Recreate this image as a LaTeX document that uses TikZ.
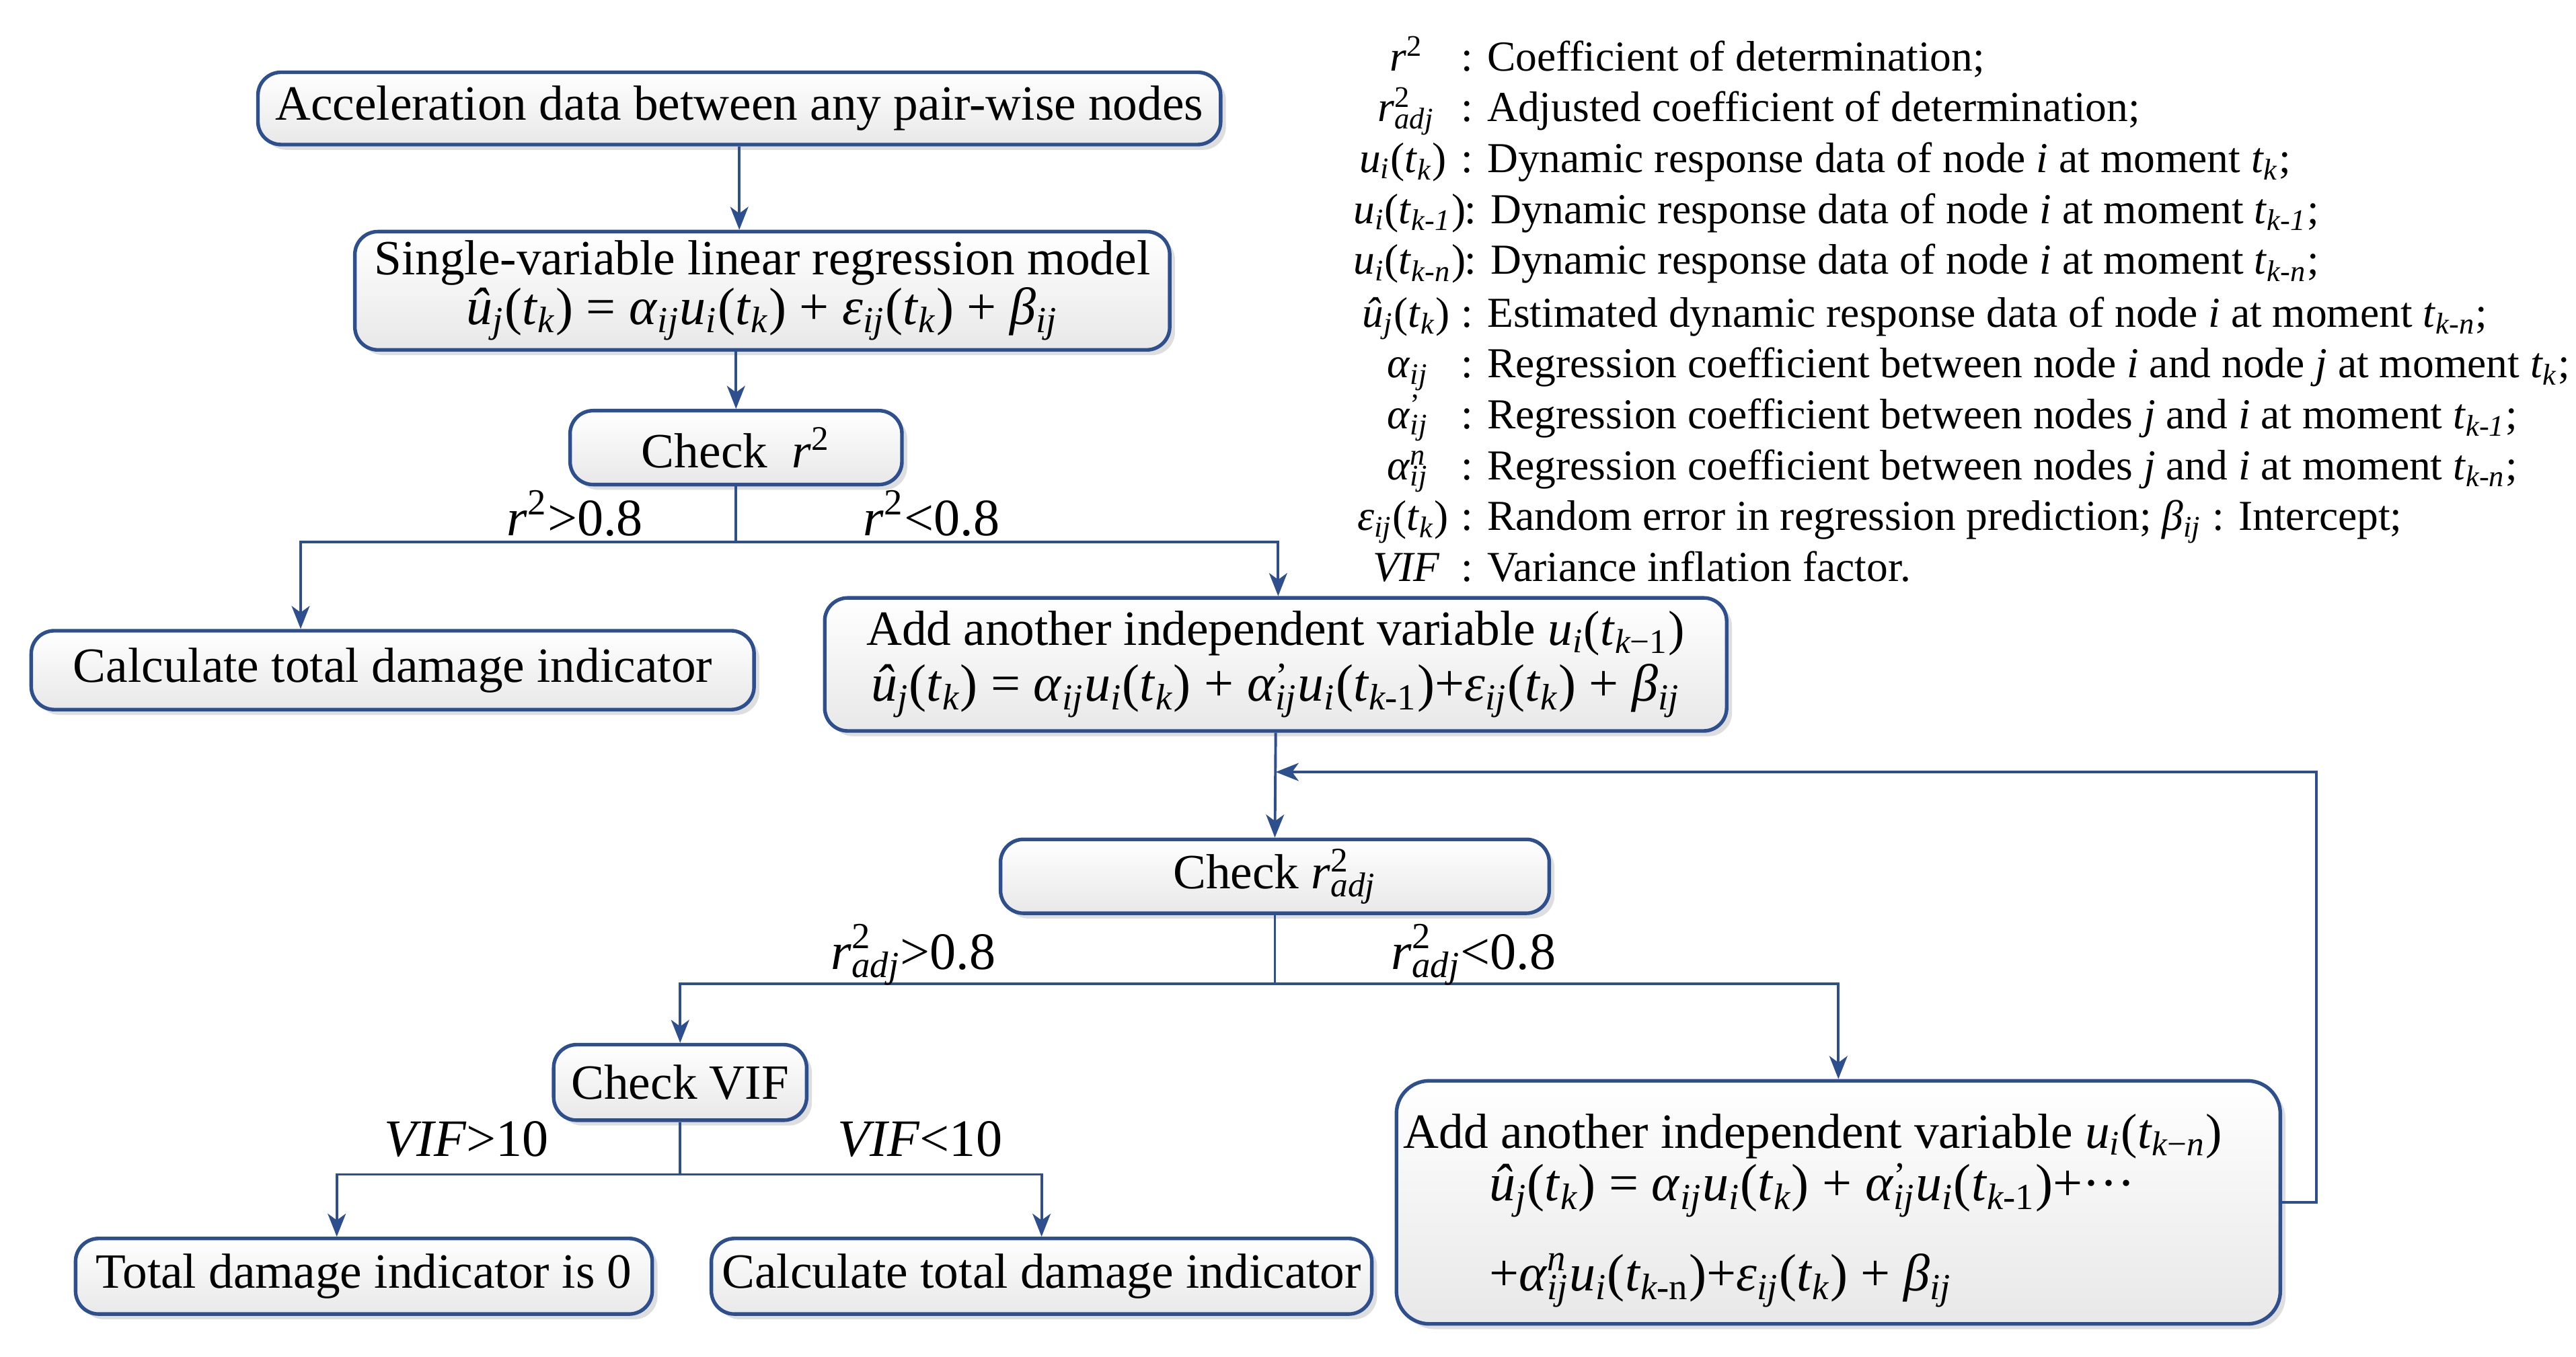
\documentclass[tikz,border=0pt]{standalone}
\usepackage{fontspec}
\setmainfont{Liberation Serif}
\usetikzlibrary{arrows.meta,shadows}
\definecolor{lc}{HTML}{2E4F8E}
\newcommand\vs[1]{\textsubscript{\itshape #1}}
\newcommand\vsr[1]{\textsubscript{#1}}
\newcommand\vp[1]{\textsuperscript{#1}}
\newcommand\ii[1]{\textit{#1}}
\newcommand\supsub[2]{\rlap{\textsuperscript{#1}}\textsubscript{\itshape #2}}
\newcommand\prsub[1]{\rlap{\textsuperscript{\raisebox{-0.45ex}{'}}}\textsubscript{\itshape #1}}
\newcommand\fml{\fontsize{16}{17}\selectfont}
\tikzset{
 box/.style={draw=lc, line width=1.1pt, rounded corners=7pt, top color=white, bottom color=black!9,
   drop shadow={shadow xshift=1.6pt, shadow yshift=-1.6pt, fill=black!13, opacity=1},
   font=\fontsize{15}{16}\selectfont, inner sep=0pt, align=center},
 conn/.style={draw=lc, line width=0.8pt},
 arr/.style={conn, -{Stealth[length=7pt,width=5.5pt,inset=2pt]}},
 lbl/.style={font=\fontsize{16}{17}\selectfont, inner sep=0pt, anchor=base},
 leg/.style={font=\fontsize{13}{14}\selectfont, inner sep=0pt, anchor=base west},
 sym/.style={font=\fontsize{13}{14}\selectfont, inner sep=0pt, anchor=base},
 ftxt/.style={font=\fontsize{15}{16}\selectfont, inner sep=0pt, anchor=base west},
}
\begin{document}
\begin{tikzpicture}[x=0.5pt,y=-0.5pt]
\fill[white] (0,0) rectangle (1568,826);
\useasboundingbox (0,0) rectangle (1568,826);

% boxes
\node[box, minimum width=293pt, minimum height=22pt] (b1) at (450,66) {Acceleration data between any pair-wise nodes};
\node[box, minimum width=248pt, minimum height=36pt] (b2) at (464,177) {Single-variable linear regression model\\[-1pt]
 \fml\ii{û}\vs{j}(\ii{t}\vs{k}) = \ii{α}\vs{ij}\ii{u}\vs{i}(\ii{t}\vs{k}) + \ii{ε}\vs{ij}(\ii{t}\vs{k}) + \ii{β}\vs{ij}};
\node[box, minimum width=101pt, minimum height=22.5pt] (b3) at (448,272.5) {Check\ \ \ii{r}\vp{2}};
\node[box, minimum width=220pt, minimum height=24pt] (b4) at (239,408) {Calculate total damage indicator};
\node[box, minimum width=274.5pt, minimum height=40.5pt] (b5) at (776.5,404.5) {Add another independent variable \ii{u}\vs{i}(\ii{t}\vsr{\itshape k\upshape −1})\\[1pt]
 \fml\ii{û}\vs{j}(\ii{t}\vs{k}) = \ii{α}\vs{ij}\ii{u}\vs{i}(\ii{t}\vs{k}) + \ii{α}\prsub{ij}\ii{u}\vs{i}(\ii{t}\vsr{\itshape k\upshape -1})+\ii{ε}\vs{ij}(\ii{t}\vs{k}) + \ii{β}\vs{ij}};
\node[box, minimum width=167pt, minimum height=22.5pt] (b6) at (776,533.5) {Check \ii{r}\supsub{2}{adj}};
\node[box, minimum width=77pt, minimum height=23pt] (b7) at (414,659) {Check VIF};
\node[box, rounded corners=10pt, minimum width=269pt, minimum height=74pt] (b8) at (1119,732) {};
\node[box, minimum width=175.5pt, minimum height=23pt] (b9) at (221.5,777) {Total damage indicator is 0};
\node[box, minimum width=201pt, minimum height=23pt] (b10) at (634,777) {Calculate total damage indicator};

% text of the large box
\node[ftxt] (t81) at (854,699) {Add another independent variable \ii{u}\vs{i}(\ii{t}\vsr{\itshape k\upshape −\itshape n})};
\node[ftxt, font=\fml] (t82) at (906,731) {\ii{û}\vs{j}(\ii{t}\vs{k}) = \ii{α}\vs{ij}\ii{u}\vs{i}(\ii{t}\vs{k}) + \ii{α}\prsub{ij}\ii{u}\vs{i}(\ii{t}\vsr{\itshape k\upshape -1})+···};
\node[ftxt, font=\fml] (t83) at (906,786) {+\ii{α}\supsub{\itshape n}{ij}\ii{u}\vs{i}(\ii{t}\vsr{\itshape k\upshape -n})+\ii{ε}\vs{ij}(\ii{t}\vs{k}) + \ii{β}\vs{ij}};

% connectors
\draw[arr] (b1.south) -- (b1.south |- b2.north);
\draw[arr] (b3.north |- b2.south) -- (b3.north);
\coordinate (j1) at (448,330);
\coordinate (l1) at (183,330);
\coordinate (r1) at (778,330);
\draw[conn] (b3.south) -- (j1);
\draw[arr] (j1) -- (l1) -- (l1 |- b4.north);
\draw[arr] (j1) -- (r1) -- (r1 |- b5.north);
\draw[arr] (b5.south) -- (b6.north);
\coordinate (fb) at (1410,470);
\draw[arr] (b8.east) -| (fb) -- (b5.south |- fb);
\coordinate (j2) at (776,599);
\draw[conn] (b6.south) -- (j2);
\draw[arr] (j2) -| (b7.north);
\draw[arr] (j2) -| (b8.north);
\coordinate (j3) at (414,715);
\coordinate (l3) at (205,715);
\draw[conn] (b7.south) -- (j3);
\draw[arr] (j3) -- (l3) -- (l3 |- b9.north);
\draw[arr] (j3) -| (b10.north);

% branch labels
\node[lbl] (la1) at (350,326) {\ii{r}\vp{2}>0.8};
\node[lbl] (la2) at (567,326) {\ii{r}\vp{2}<0.8};
\node[lbl] (la3) at (556,590) {\ii{r}\supsub{2}{adj}>0.8};
\node[lbl] (la4) at (897,590) {\ii{r}\supsub{2}{adj}<0.8};
\node[lbl] (la5) at (284,704) {\ii{VIF}>10};
\node[lbl] (la6) at (560,704) {\ii{VIF}<10};

% legend
\node[sym] (s1) at (856,43) {\ii{r}\vp{2}};
\node[leg] (d1) at (889,43) {: Coefficient of determination;};
\node[sym] (s2) at (856,74) {\ii{r}\supsub{2}{adj}};
\node[leg] (d2) at (889,74) {: Adjusted coefficient of determination;};
\node[sym] (s3) at (854,105) {\ii{u}\vs{i}(\ii{t}\vs{k})};
\node[leg] (d3) at (889,105) {: Dynamic response data of node \ii{i} at moment \ii{t}\vs{k};};
\node[sym] (s4) at (858,136) {\ii{u}\vs{i}(\ii{t}\vs{k-1})};
\node[leg] (d4) at (891,136) {: Dynamic response data of node \ii{i} at moment \ii{t}\vs{k-1};};
\node[sym] (s5) at (858,167) {\ii{u}\vs{i}(\ii{t}\vs{k-n})};
\node[leg] (d5) at (891,167) {: Dynamic response data of node \ii{i} at moment \ii{t}\vs{k-n};};
\node[sym] (s6) at (856,199) {\ii{û}\vs{j}(\ii{t}\vs{k})};
\node[leg] (d6) at (889,199) {: Estimated dynamic response data of node \ii{i} at moment \ii{t}\vs{k-n};};
\node[sym] (s7) at (857,230) {\ii{α}\vs{ij}};
\node[leg] (d7) at (889,230) {: Regression coefficient between node \ii{i} and node \ii{j} at moment \ii{t}\vs{k};};
\node[sym] (s8) at (857,261) {\ii{α}\supsub{'}{ij}};
\node[leg] (d8) at (889,261) {: Regression coefficient between nodes \ii{j} and \ii{i} at moment \ii{t}\vs{k-1};};
\node[sym] (s9) at (857,292) {\ii{α}\supsub{\itshape n}{ij}};
\node[leg] (d9) at (889,292) {: Regression coefficient between nodes \ii{j} and \ii{i} at moment \ii{t}\vs{k-n};};
\node[sym] (s10) at (854,323) {\ii{ε}\vs{ij}(\ii{t}\vs{k})};
\node[leg] (d10) at (889,323) {: Random error in regression prediction; \ii{β}\vs{ij} : Intercept;};
\node[sym] (s11) at (856,354) {\ii{VIF}};
\node[leg] (d11) at (889,354) {: Variance inflation factor.};
\end{tikzpicture}
\end{document}
